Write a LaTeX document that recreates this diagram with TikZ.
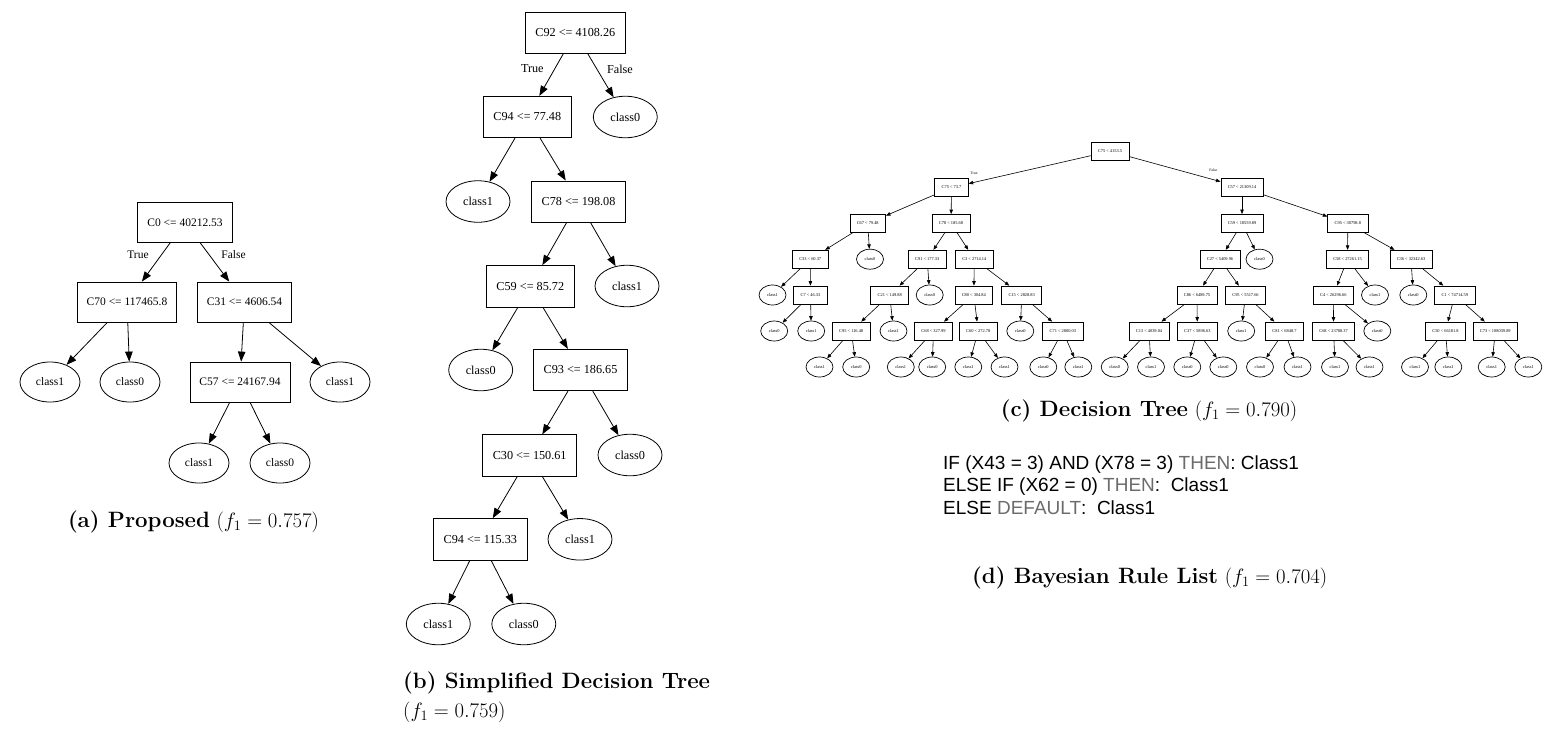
\documentclass[tikz,border=0pt]{standalone}
\usepackage{fontspec}
\newfontfamily\tms{Liberation Serif}
\newfontfamily\arl{Liberation Sans}
\usetikzlibrary{shapes.geometric,arrows.meta}
\definecolor{kwgray}{rgb}{0.42,0.42,0.42}
\tikzset{
  bx/.style={draw,rectangle,line width=0.8pt,font=\tms\fontsize{11.5}{13}\selectfont,inner xsep=9.5pt,inner ysep=0pt,minimum height=40pt},
  lf/.style={draw,ellipse,line width=0.8pt,font=\tms\fontsize{11.5}{13}\selectfont,inner sep=0pt,minimum width=60pt,minimum height=40pt},
  bxb/.style={bx,font=\tms\fontsize{12.2}{14}\selectfont,inner xsep=10pt,minimum height=41.5pt},
  lfb/.style={lf,font=\tms\fontsize{12.2}{14}\selectfont,minimum width=64pt,minimum height=41.5pt},
  ed/.style={line width=0.8pt,-{Triangle[length=10pt,width=7.5pt]}},
  elab/.style={font=\tms\fontsize{11.5}{13}\selectfont,inner sep=0pt},
  elabb/.style={font=\tms\fontsize{12.2}{14}\selectfont,inner sep=0pt},
  sbx/.style={draw,rectangle,line width=0.7pt,font=\tms\fontsize{4.4}{5}\selectfont,inner xsep=6.9pt,inner ysep=0pt,minimum height=18pt},
  slf/.style={draw,ellipse,line width=0.7pt,font=\tms\fontsize{4.4}{5}\selectfont,inner sep=0pt,minimum width=27pt,minimum height=20pt},
  sed/.style={line width=0.6pt,-{Triangle[length=4.5pt,width=3.5pt]}},
  slab/.style={font=\tms\fontsize{3.8}{4.5}\selectfont,inner sep=0pt},
  captxt/.style={font=\fontsize{22.2}{26}\selectfont,inner sep=0pt},
  ruletxt/.style={font=\arl\fontsize{19}{22}\selectfont,inner sep=0pt,anchor=base west}
}
\begin{document}
\begin{tikzpicture}[x=1pt,y=-1pt]
\useasboundingbox (0,0) rectangle (1562,744);
% ---------- (a) ----------
\node[bx] (a0) at (185,222.5) {C0 <= 40212.53};
\node[bx] (a1) at (127,302) {C70 <= 117465.8};
\node[bx] (a2) at (244.5,302) {C31 <= 4606.54};
\node[lf] (a3) at (50,382) {class1};
\node[lf] (a4) at (130,382) {class0};
\node[bx] (a5) at (240,382) {C57 <= 24167.94};
\node[lf] (a6) at (340,382) {class1};
\node[lf] (a7) at (199,463) {class1};
\node[lf] (a8) at (280,463) {class0};
\foreach \p/\c in {a0/a1,a0/a2,a1/a3,a1/a4,a2/a5,a2/a6,a5/a7,a5/a8} \draw[ed] (\p) -- (\c);
\node[elab] (atrue) at (138,255) {True};
\node[elab] (afalse) at (233.5,255) {False};
\node[captxt,anchor=base] (capa) at (193.5,527) {\textbf{(a) Proposed} $(f_1 = 0.757)$};
% ---------- (b) ----------
\node[bxb] (b0) at (575.3,32.7) {C92 <= 4108.26};
\node[bxb] (b1) at (527.3,117) {C94 <= 77.48};
\node[lfb] (b2) at (625.3,117) {class0};
\node[lfb] (b3) at (478,201.5) {class1};
\node[bxb] (b4) at (578.5,201.7) {C78 <= 198.08};
\node[bxb] (b5) at (530.3,286.3) {C59 <= 85.72};
\node[lfb] (b6) at (627,286) {class1};
\node[lfb] (b7) at (480.7,370) {class0};
\node[bxb] (b8) at (580.5,370) {C93 <= 186.65};
\node[bxb] (b9) at (529.7,455.5) {C30 <= 150.61};
\node[lfb] (b10) at (630,455) {class0};
\node[bxb] (b11) at (480.3,539.3) {C94 <= 115.33};
\node[lfb] (b12) at (580,539.3) {class1};
\node[lfb] (b13) at (438.3,624) {class1};
\node[lfb] (b14) at (523.8,624) {class0};
\foreach \p/\c in {b0/b1,b0/b2,b1/b3,b1/b4,b4/b5,b4/b6,b5/b7,b5/b8,b8/b9,b8/b10,b9/b11,b9/b12,b11/b13,b11/b14} \draw[ed] (\p) -- (\c);
\node[elabb] (btrue) at (532.3,68.3) {True};
\node[elabb] (bfalse) at (620,69) {False};
\node[captxt,anchor=base west] (capb1) at (403,688) {\textbf{(b) Simplified Decision Tree}};
\node[captxt,anchor=base west] (capb2) at (403,717) {$(f_1 = 0.759)$};
% ---------- (c) ----------
\node[sbx] (c0) at (1110,151.3) {C75 < 4153.5};
\node[sbx] (c1) at (951.5,187.5) {C75 < 73.7};
\node[sbx] (c2) at (1242,187.5) {C57 < 21309.14};
\node[sbx] (c3) at (867.7,223.4) {C67 < 79.48};
\node[sbx] (c4) at (951,223.4) {C78 < 185.68};
\node[sbx] (c5) at (1242,223.4) {C59 < 18559.89};
\node[sbx] (c6) at (1347.8,223.4) {C95 < 30798.8};
\node[sbx] (c7) at (810.2,259.2) {C33 < 60.37};
\node[slf] (c8) at (870,259.2) {class0};
\node[sbx] (c9) at (927.2,259.2) {C91 < 177.33};
\node[sbx] (c10) at (974.3,259.2) {C3 < 2714.14};
\node[sbx] (c11) at (1220,259.2) {C27 < 5409.96};
\node[slf] (c12) at (1259.5,259.2) {class0};
\node[sbx] (c13) at (1347.5,259.2) {C58 < 27261.15};
\node[sbx] (c14) at (1411,259.2) {C36 < 32342.63};
\node[slf] (c15) at (772.5,295) {class1};
\node[sbx] (c16) at (810.5,295) {C7 < 46.33};
\node[sbx] (c17) at (889.7,295) {C21 < 149.88};
\node[slf] (c18) at (929.7,295) {class0};
\node[sbx] (c19) at (973.8,295) {C80 < 304.84};
\node[sbx] (c20) at (1021.7,295) {C15 < 2828.83};
\node[sbx] (c21) at (1197,295) {C86 < 6489.75};
\node[sbx] (c22) at (1245.5,295) {C95 < 5517.66};
\node[sbx] (c23) at (1333.3,295) {C4 < 26296.66};
\node[slf] (c24) at (1375,295) {class1};
\node[slf] (c25) at (1413.3,295) {class0};
\node[sbx] (c26) at (1454.8,295) {C1 < 74714.59};
\node[slf] (c27) at (774.2,331) {class0};
\node[slf] (c28) at (811.2,331) {class1};
\node[sbx] (c29) at (851.2,331) {C95 < 116.48};
\node[slf] (c30) at (893.5,331) {class1};
\node[sbx] (c31) at (933.5,331) {C68 < 327.99};
\node[sbx] (c32) at (978.2,331) {C60 < 272.78};
\node[slf] (c33) at (1020.3,331) {class0};
\node[sbx] (c34) at (1062.8,331) {C71 < 2800.03};
\node[sbx] (c35) at (1149,331) {C13 < 4039.04};
\node[sbx] (c36) at (1197.3,331) {C37 < 5896.63};
\node[slf] (c37) at (1241.2,331) {class1};
\node[sbx] (c38) at (1284.5,331) {C81 < 6848.7};
\node[sbx] (c39) at (1333.6,331) {C68 < 23788.37};
\node[slf] (c40) at (1377.3,331) {class0};
\node[sbx] (c41) at (1445.5,331) {C50 < 66181.8};
\node[sbx] (c42) at (1495.3,331) {C73 < 108039.89};
\node[slf] (c43) at (819.5,367) {class1};
\node[slf] (c44) at (856.2,367) {class0};
\node[slf] (c45) at (900.8,367) {class1};
\node[slf] (c46) at (932.2,367) {class0};
\node[slf] (c47) at (968.3,367) {class1};
\node[slf] (c48) at (1004.5,367) {class1};
\node[slf] (c49) at (1043.3,367) {class0};
\node[slf] (c50) at (1078.3,367) {class1};
\node[slf] (c51) at (1114.7,367) {class0};
\node[slf] (c52) at (1151,367) {class1};
\node[slf] (c53) at (1187.3,367) {class0};
\node[slf] (c54) at (1223.3,367) {class0};
\node[slf] (c55) at (1260,367) {class0};
\node[slf] (c56) at (1297.5,367) {class1};
\node[slf] (c57) at (1335,367) {class1};
\node[slf] (c58) at (1369.5,367) {class1};
\node[slf] (c59) at (1415,367) {class1};
\node[slf] (c60) at (1448.3,367) {class1};
\node[slf] (c61) at (1491.7,367) {class1};
\node[slf] (c62) at (1528.3,367) {class1};
\foreach \p/\c in {c0/c1,c0/c2,c1/c3,c1/c4,c2/c5,c2/c6,c3/c7,c3/c8,c4/c9,c4/c10,c5/c11,c5/c12,c6/c13,c6/c14,
  c7/c15,c7/c16,c9/c17,c9/c18,c10/c19,c10/c20,c11/c21,c11/c22,c13/c23,c13/c24,c14/c25,c14/c26,
  c16/c27,c16/c28,c17/c29,c17/c30,c19/c31,c19/c32,c20/c33,c20/c34,c21/c35,c21/c36,c22/c37,c22/c38,
  c23/c39,c23/c40,c26/c41,c26/c42,c29/c43,c29/c44,c31/c45,c31/c46,c32/c47,c32/c48,c34/c49,c34/c50,
  c35/c51,c35/c52,c36/c53,c36/c54,c38/c55,c38/c56,c39/c57,c39/c58,c41/c59,c41/c60,c42/c61,c42/c62}
  \draw[sed] (\p) -- (\c);
\node[slab] (ctrue) at (974,173.3) {True};
\node[slab] (cfalse) at (1213.3,170) {False};
\node[captxt,anchor=base] (capc) at (1149,416.7) {\textbf{(c) Decision Tree} $(f_1 = 0.790)$};
% ---------- (d) ----------
\node[ruletxt] (r1) at (943,469) {IF (X43 = 3) AND (X78 = 3) \textcolor{kwgray}{THEN}: Class1};
\node[ruletxt] (r2) at (943,491.5) {ELSE IF (X62 = 0) \textcolor{kwgray}{THEN}:\ \ Class1};
\node[ruletxt] (r3) at (943,514) {ELSE \textcolor{kwgray}{DEFAULT}:\ \ Class1};
\node[captxt,anchor=base] (capd) at (1149.7,583.3) {\textbf{(d) Bayesian Rule List} $(f_1 = 0.704)$};
\end{tikzpicture}
\end{document}
